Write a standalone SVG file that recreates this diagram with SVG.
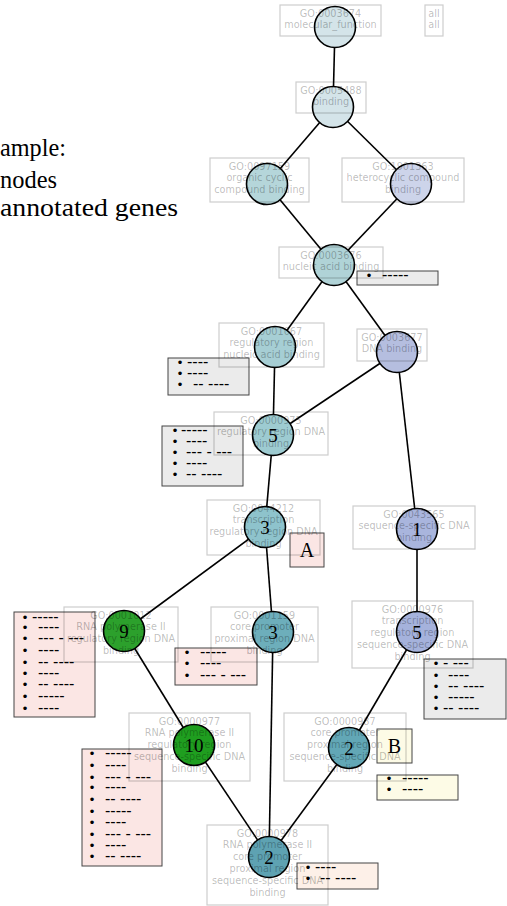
<svg xmlns="http://www.w3.org/2000/svg" width="507" height="906" viewBox="0 0 507 906">
<style>
.edge{stroke:#000;stroke-width:1.6;fill:none}
.c{stroke:#000;stroke-width:1.6}
.lb{fill:none;stroke:#000;stroke-opacity:0.2;stroke-width:1.2}
.lt{font-family:"DejaVu Sans",sans-serif;font-size:9.7px;fill:#000;fill-opacity:0.27;text-anchor:middle}
.num{font-family:"Liberation Serif",serif;font-size:19px;fill:#000;text-anchor:middle}
.ab{stroke:#444;stroke-width:1}
.gray{fill:#ebebeb}.pink{fill:#fbe6e4}.cream{fill:#fdfbe6}.peach{fill:#fdf0e8}
.b{font-family:"Liberation Sans",sans-serif;font-size:13px;text-anchor:middle;fill:#000}
.d{font-family:"Liberation Sans",sans-serif;font-size:16px;fill:#000}
.leg{font-family:"Liberation Serif",serif;font-size:26px;fill:#000}
.let{font-family:"Liberation Serif",serif;font-size:20px;fill:#000;text-anchor:middle}
</style>
<g id="legend">
<text class="leg" x="0" y="156" textLength="66" lengthAdjust="spacingAndGlyphs">ample:</text>
<text class="leg" x="0" y="188" textLength="57" lengthAdjust="spacingAndGlyphs">nodes</text>
<text class="leg" x="0" y="216" textLength="178" lengthAdjust="spacingAndGlyphs">annotated genes</text>
</g>
<g id="connectors">
<line class="edge" x1="335" y1="27" x2="333" y2="107"/>
<line class="edge" x1="333" y1="107" x2="267" y2="184"/>
<line class="edge" x1="333" y1="107" x2="411" y2="184"/>
<line class="edge" x1="267" y1="184" x2="334" y2="265"/>
<line class="edge" x1="411" y1="184" x2="334" y2="265"/>
<line class="edge" x1="334" y1="265" x2="275" y2="347"/>
<line class="edge" x1="334" y1="265" x2="397" y2="352"/>
<line class="edge" x1="275" y1="347" x2="273" y2="435"/>
<line class="edge" x1="397" y1="352" x2="273" y2="435"/>
<line class="edge" x1="397" y1="352" x2="417" y2="529"/>
<line class="edge" x1="273" y1="435" x2="265" y2="527"/>
<line class="edge" x1="265" y1="527" x2="124" y2="631"/>
<line class="edge" x1="265" y1="527" x2="273" y2="632"/>
<line class="edge" x1="417" y1="529" x2="417" y2="632"/>
<line class="edge" x1="124" y1="631" x2="194" y2="745"/>
<line class="edge" x1="194" y1="745" x2="269" y2="857"/>
<line class="edge" x1="273" y1="632" x2="269" y2="857"/>
<line class="edge" x1="417" y1="632" x2="349" y2="748"/>
<line class="edge" x1="349" y1="748" x2="269" y2="857"/>
</g>
<g id="ann-a"><rect class="ab gray" x="357" y="271" width="81" height="14"/>
<text class="b" x="369" y="280">•</text><text class="d" x="382" y="280">-----</text></g>
<g id="ann-b"><rect class="ab gray" x="168" y="358" width="81" height="37"/>
<text class="b" x="180" y="367">•</text><text class="d" x="187" y="367">----</text>
<text class="b" x="180" y="378">•</text><text class="d" x="187" y="378">----</text>
<text class="b" x="180" y="389">•</text><text class="d" x="193" y="389">-- ----</text></g>
<g id="ann-c"><rect class="ab gray" x="162" y="426" width="81" height="60"/>
<text class="b" x="175" y="435">•</text><text class="d" x="181" y="435">-----</text>
<text class="b" x="175" y="446">•</text><text class="d" x="186" y="446">----</text>
<text class="b" x="175" y="457">•</text><text class="d" x="186" y="457">--- - ---</text>
<text class="b" x="175" y="468">•</text><text class="d" x="186" y="468">----</text>
<text class="b" x="175" y="479">•</text><text class="d" x="186" y="479">-- ----</text></g>
<g id="ann-A"><rect class="ab pink" x="290" y="533" width="34" height="34"/>
<text class="let" x="307" y="557">A</text></g>
<g id="ann-e"><rect class="ab pink" x="14" y="612" width="81" height="105"/>
<text class="b" x="25" y="622">•</text><text class="d" x="32" y="622">-----</text>
<text class="b" x="25" y="632">•</text><text class="d" x="38" y="632">----</text>
<text class="b" x="25" y="643">•</text><text class="d" x="38" y="643">--- - ---</text>
<text class="b" x="25" y="655">•</text><text class="d" x="38" y="655">----</text>
<text class="b" x="25" y="667">•</text><text class="d" x="38" y="667">-- ----</text>
<text class="b" x="25" y="678">•</text><text class="d" x="38" y="678">----</text>
<text class="b" x="25" y="689">•</text><text class="d" x="38" y="689">-- ----</text>
<text class="b" x="25" y="701">•</text><text class="d" x="38" y="701">-----</text>
<text class="b" x="25" y="713">•</text><text class="d" x="38" y="713">----</text></g>
<g id="ann-f"><rect class="ab pink" x="175" y="648" width="82" height="37"/>
<text class="b" x="187" y="657">•</text><text class="d" x="200" y="657">-----</text>
<text class="b" x="187" y="668">•</text><text class="d" x="200" y="668">----</text>
<text class="b" x="187" y="680">•</text><text class="d" x="200" y="680">--- - ---</text></g>
<g id="ann-g"><rect class="ab gray" x="424" y="659" width="82" height="60"/>
<text class="b" x="436" y="668">•</text><text class="d" x="443" y="668">- ---</text>
<text class="b" x="436" y="680">•</text><text class="d" x="448" y="680">----</text>
<text class="b" x="436" y="691">•</text><text class="d" x="448" y="691">-- ----</text>
<text class="b" x="436" y="702">•</text><text class="d" x="448" y="702">-----</text>
<text class="b" x="436" y="713">•</text><text class="d" x="443" y="713">-- ----</text></g>
<g id="ann-h"><rect class="ab pink" x="82" y="749" width="80" height="117"/>
<text class="b" x="92" y="758">•</text><text class="d" x="105" y="758">-----</text>
<text class="b" x="92" y="770">•</text><text class="d" x="105" y="770">----</text>
<text class="b" x="92" y="782">•</text><text class="d" x="105" y="782">--- - ---</text>
<text class="b" x="92" y="792">•</text><text class="d" x="105" y="792">----</text>
<text class="b" x="92" y="804">•</text><text class="d" x="105" y="804">-- ----</text>
<text class="b" x="92" y="816">•</text><text class="d" x="105" y="816">-----</text>
<text class="b" x="92" y="827">•</text><text class="d" x="105" y="827">----</text>
<text class="b" x="92" y="839">•</text><text class="d" x="105" y="839">--- - ---</text>
<text class="b" x="92" y="850">•</text><text class="d" x="105" y="850">----</text>
<text class="b" x="92" y="861">•</text><text class="d" x="105" y="861">-- ----</text></g>
<g id="ann-B"><rect class="ab cream" x="377" y="729" width="35" height="34"/>
<text class="let" x="394.5" y="753">B</text></g>
<g id="ann-j"><rect class="ab cream" x="377" y="775" width="81" height="25"/>
<text class="b" x="389" y="783">•</text><text class="d" x="402" y="783">-----</text>
<text class="b" x="389" y="794">•</text><text class="d" x="402" y="794">----</text></g>
<g id="ann-k"><rect class="ab peach" x="297" y="863" width="81" height="26"/>
<text class="b" x="308" y="872">•</text><text class="d" x="315" y="872">----</text>
<text class="b" x="308" y="883">•</text><text class="d" x="320" y="883">-- ----</text></g>

<g id="all"><rect class="lb" x="425" y="5" width="18" height="31"/>
<text class="lt" x="434" y="16.5">all</text><text class="lt" x="434" y="28.3">all</text></g>
<g id="GO0003674"><circle class="c" cx="335" cy="27" r="20.5" fill="#d4e4e9"/>
<rect class="lb" x="280" y="5" width="101" height="31"/>
<text class="lt" x="330.5" y="16.5">GO:0003674</text><text class="lt" x="330.5" y="28.3">molecular_function</text></g>
<g id="GO0005488"><circle class="c" cx="333" cy="107" r="20.5" fill="#d4e4e9"/>
<rect class="lb" x="296" y="82" width="70" height="31"/>
<text class="lt" x="331" y="93.5">GO:0005488</text><text class="lt" x="331" y="105.3">binding</text></g>
<g id="GO0097159"><circle class="c" cx="267" cy="184" r="20.5" fill="#b5d6da"/>
<rect class="lb" x="210" y="158" width="99" height="44"/>
<text class="lt" x="259.5" y="169.5">GO:0097159</text><text class="lt" x="259.5" y="181.3">organic cyclic</text><text class="lt" x="259.5" y="193.1">compound binding</text></g>
<g id="GO1901363"><circle class="c" cx="411" cy="184" r="20.5" fill="#cdd4ea"/>
<rect class="lb" x="342" y="158" width="122" height="44"/>
<text class="lt" x="403" y="169.5">GO:1901363</text><text class="lt" x="403" y="181.3">heterocyclic compound</text><text class="lt" x="403" y="193.1">binding</text></g>
<g id="GO0003676"><circle class="c" cx="334" cy="265" r="20.5" fill="#b0d3d7"/>
<rect class="lb" x="279" y="247" width="104" height="31"/>
<text class="lt" x="331" y="258.5">GO:0003676</text><text class="lt" x="331" y="270.3">nucleic acid binding</text></g>
<g id="GO0001067"><circle class="c" cx="275" cy="347" r="20.5" fill="#a6ced4"/>
<rect class="lb" x="219" y="323" width="105" height="44"/>
<text class="lt" x="271.5" y="334.5">GO:0001067</text><text class="lt" x="271.5" y="346.3">regulatory region</text><text class="lt" x="271.5" y="358.1">nucleic acid binding</text></g>
<g id="GO0003677"><circle class="c" cx="397" cy="352" r="20.5" fill="#b5bedf"/>
<rect class="lb" x="357" y="329" width="70" height="32"/>
<text class="lt" x="392" y="340.5">GO:0003677</text><text class="lt" x="392" y="352.3">DNA binding</text></g>
<g id="GO0000975"><circle class="c" cx="273" cy="435" r="20.5" fill="#9dcbd1"/>
<rect class="lb" x="214" y="412" width="114" height="43"/>
<text class="lt" x="271" y="423.5">GO:0000975</text><text class="lt" x="271" y="435.3">regulatory region DNA</text><text class="lt" x="271" y="447.1">binding</text>
<text class="num" x="273" y="441.5">5</text></g>
<g id="GO0044212"><circle class="c" cx="265" cy="527" r="20.5" fill="#8ec3cc"/>
<rect class="lb" x="207" y="500" width="113" height="55"/>
<text class="lt" x="263.5" y="511.5">GO:0044212</text><text class="lt" x="263.5" y="523.3">transcription</text><text class="lt" x="263.5" y="535.1">regulatory region DNA</text><text class="lt" x="263.5" y="546.9">binding</text>
<text class="num" x="265" y="533.5">3</text></g>
<g id="GO0043565"><circle class="c" cx="417" cy="529" r="20.5" fill="#a9b5dd"/>
<rect class="lb" x="353" y="506" width="122" height="43"/>
<text class="lt" x="414" y="517.5">GO:0043565</text><text class="lt" x="414" y="529.3">sequence-specific DNA</text><text class="lt" x="414" y="541.1">binding</text>
<text class="num" x="417" y="535.5">1</text></g>
<g id="GO0001012"><circle class="c" cx="124" cy="631" r="20.5" fill="#2ca02c"/>
<rect class="lb" x="64" y="607" width="114" height="55"/>
<text class="lt" x="121" y="618.5">GO:0001012</text><text class="lt" x="121" y="630.3">RNA polymerase II</text><text class="lt" x="121" y="642.1">regulatory region DNA</text><text class="lt" x="121" y="653.9">binding</text>
<text class="num" x="124" y="637.5">9</text></g>
<g id="GO0001159"><circle class="c" cx="273" cy="632" r="20.5" fill="#6daebb"/>
<rect class="lb" x="211" y="607" width="107" height="55"/>
<text class="lt" x="264.5" y="618.5">GO:0001159</text><text class="lt" x="264.5" y="630.3">core promoter</text><text class="lt" x="264.5" y="642.1">proximal region DNA</text><text class="lt" x="264.5" y="653.9">binding</text>
<text class="num" x="273" y="638.5">3</text></g>
<g id="GO0000976"><circle class="c" cx="417" cy="632" r="20.5" fill="#a5b2dc"/>
<rect class="lb" x="352" y="601" width="121" height="67"/>
<text class="lt" x="412.5" y="612.5">GO:0000976</text><text class="lt" x="412.5" y="624.3">transcription</text><text class="lt" x="412.5" y="636.1">regulatory region</text><text class="lt" x="412.5" y="647.9">sequence-specific DNA</text><text class="lt" x="412.5" y="659.7">binding</text>
<text class="num" x="417" y="638.5">5</text></g>
<g id="GO0000977"><circle class="c" cx="194" cy="745" r="20.5" fill="#1f9e1f"/>
<rect class="lb" x="129" y="713" width="121" height="68"/>
<text class="lt" x="189.5" y="724.5">GO:0000977</text><text class="lt" x="189.5" y="736.3">RNA polymerase II</text><text class="lt" x="189.5" y="748.1">regulatory region</text><text class="lt" x="189.5" y="759.9">sequence-specific DNA</text><text class="lt" x="189.5" y="771.7">binding</text>
<text class="num" x="194" y="751.5">10</text></g>
<g id="GO0000987"><circle class="c" cx="349" cy="748" r="20.5" fill="#62a7b6"/>
<rect class="lb" x="284" y="713" width="122" height="68"/>
<text class="lt" x="345" y="724.5">GO:0000987</text><text class="lt" x="345" y="736.3">core promoter</text><text class="lt" x="345" y="748.1">proximal region</text><text class="lt" x="345" y="759.9">sequence-specific DNA</text><text class="lt" x="345" y="771.7">binding</text>
<text class="num" x="349" y="754.5">2</text></g>
<g id="GO0000978"><circle class="c" cx="269" cy="857" r="20.5" fill="#5ea2b2"/>
<rect class="lb" x="207" y="825" width="121" height="80"/>
<text class="lt" x="267.5" y="836.5">GO:0000978</text><text class="lt" x="267.5" y="848.3">RNA polymerase II</text><text class="lt" x="267.5" y="860.1">core promoter</text><text class="lt" x="267.5" y="871.9">proximal region</text><text class="lt" x="267.5" y="883.7">sequence-specific DNA</text><text class="lt" x="267.5" y="895.5">binding</text>
<text class="num" x="269" y="863.5">2</text></g>
</svg>
